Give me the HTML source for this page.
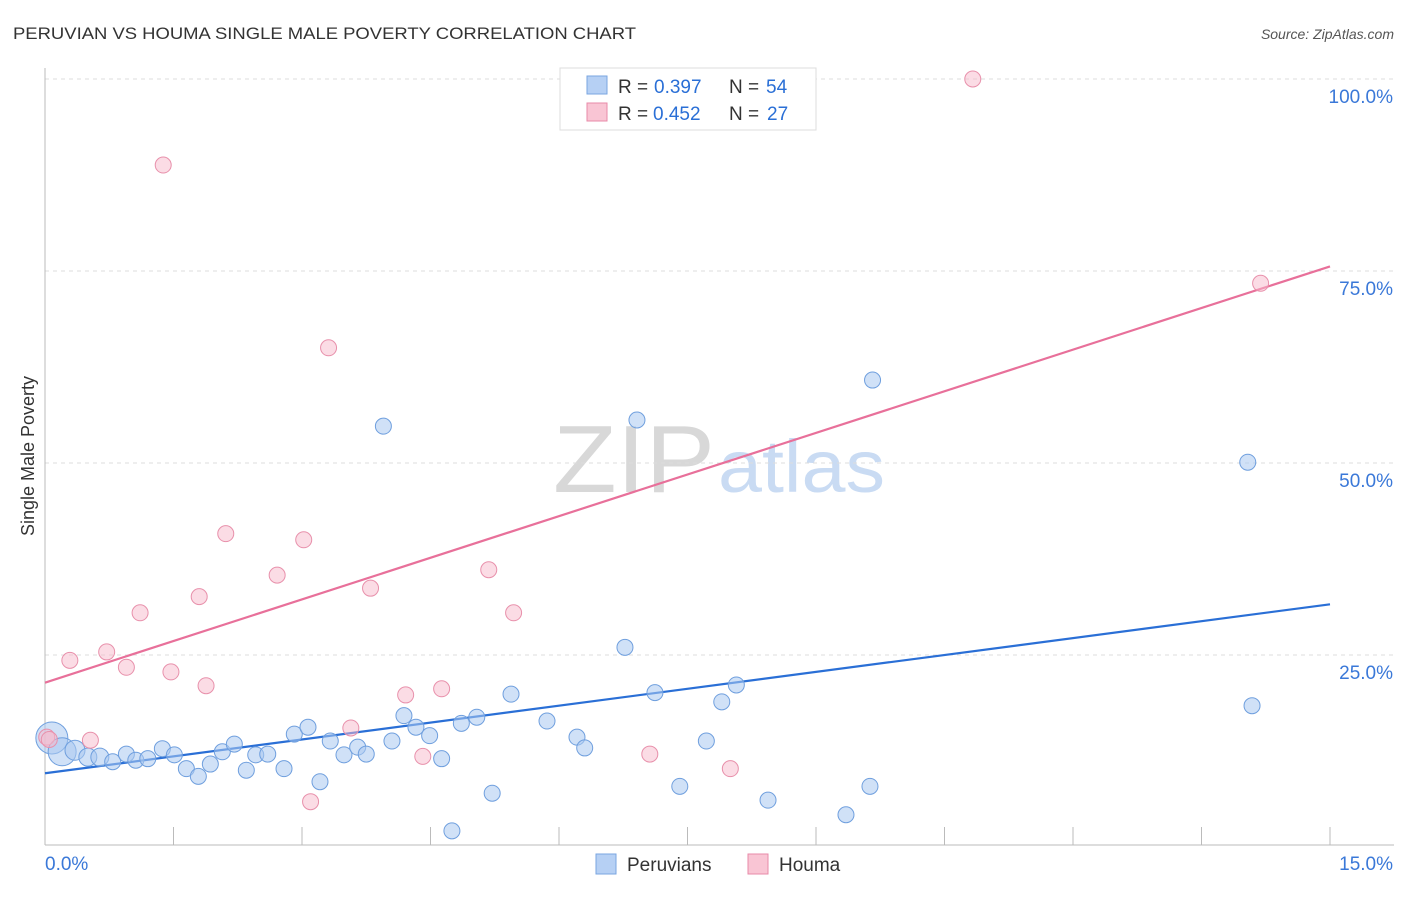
<!DOCTYPE html>
<html><head><meta charset="utf-8"><style>
body{margin:0;background:#fff;font-family:"Liberation Sans",sans-serif;}
svg text{font-family:"Liberation Sans",sans-serif;}
</style></head><body>
<svg width="1406" height="892" xmlns="http://www.w3.org/2000/svg" id="chart">
<text x="13" y="39" font-size="17" fill="#333" textLength="623" lengthAdjust="spacingAndGlyphs">PERUVIAN VS HOUMA SINGLE MALE POVERTY CORRELATION CHART</text>
<text x="1394" y="39" font-size="14" fill="#555" font-style="italic" text-anchor="end">Source: ZipAtlas.com</text>
<text x="0" y="0" transform="translate(34,456) rotate(-90)" font-size="18" fill="#333" text-anchor="middle">Single Male Poverty</text>
<g>
<text x="553" y="492" font-size="96" fill="#d8d8d8" font-family="Liberation Serif,serif" textLength="162" lengthAdjust="spacingAndGlyphs">ZIP</text>
<text x="718" y="492" font-size="74" fill="#c9dbf3" textLength="167" lengthAdjust="spacingAndGlyphs">atlas</text>
</g>
<g id="grid"></g><g id="axes"></g><g id="lines"></g><g id="points"></g>
<g>
<rect x="560" y="68" width="256" height="62" fill="#fff" stroke="#ddd"/>
<rect x="587" y="76" width="20" height="18" fill="#b6d0f4" stroke="#7aa6e0"/>
<text y="93" font-size="19" fill="#333"><tspan x="618">R =</tspan><tspan x="654" fill="#2a6fd6">0.397</tspan><tspan x="729">N =</tspan><tspan x="766" fill="#2a6fd6">54</tspan></text>
<rect x="587" y="103" width="20" height="18" fill="#f9c5d4" stroke="#e88aa8"/>
<text y="120" font-size="19" fill="#333"><tspan x="618">R =</tspan><tspan x="653" fill="#2a6fd6">0.452</tspan><tspan x="729">N =</tspan><tspan x="767" fill="#2a6fd6">27</tspan></text>
</g>
<g>
<rect x="596" y="854" width="20" height="20" fill="#b6d0f4" stroke="#7aa6e0"/>
<text x="627" y="871" font-size="19" fill="#333">Peruvians</text>
<rect x="748" y="854" width="20" height="20" fill="#f9c5d4" stroke="#e88aa8"/>
<text x="779" y="871" font-size="19" fill="#333">Houma</text>
</g>
</svg>
<script>
const blueX=[0.08,0.20,0.35,0.50,0.64,0.79,0.95,1.06,1.20,1.37,1.51,1.65,1.79,1.93,2.07,2.21,2.35,2.46,2.60,2.79,2.91,3.07,3.21,3.33,3.49,3.65,3.75,3.95,4.05,4.19,4.33,4.49,4.63,4.75,4.86,5.04,5.22,5.44,5.86,6.21,6.30,6.77,6.91,7.12,7.41,7.72,7.90,8.07,8.44,9.35,9.63,9.66,14.04,14.09];
const blueY=[14.2,12.4,12.6,11.7,11.7,11.1,12.1,11.3,11.5,12.8,12.0,10.2,9.2,10.8,12.4,13.4,10.0,12.0,12.1,10.2,14.7,15.6,8.5,13.8,12.0,13.0,12.1,54.8,13.8,17.1,15.6,14.5,11.5,2.1,16.1,16.9,7.0,19.9,16.4,14.3,12.9,26.0,55.6,20.1,7.9,13.8,18.9,21.1,6.1,4.2,7.9,60.8,50.1,18.4];
const blueR=[16,14,10,9,9,8,8,8,8,8,8,8,8,8,8,8,8,8,8,8,8,8,8,8,8,8,8,8,8,8,8,8,8,8,8,8,8,8,8,8,8,8,8,8,8,8,8,8,8,8,8,8,8,8];
const pinkX=[0.02,0.05,0.29,0.53,0.72,0.95,1.11,1.38,1.47,1.80,1.88,2.11,2.71,3.02,3.10,3.31,3.57,3.80,4.21,4.41,4.63,5.18,5.47,7.06,8.00,10.83,14.19];
const pinkY=[14.3,14.0,24.3,13.9,25.4,23.4,30.5,88.8,22.8,32.6,21.0,40.8,35.4,40.0,5.9,65.0,15.5,33.7,19.8,11.8,20.6,36.1,30.5,12.1,10.2,100.0,73.4];
const blueLine=[9.6,31.6];const pinkLine=[21.4,75.6];
const xTicks=[0,1.5,3,4.5,6,7.5,9,10.5,12,13.5,15];
const yTicks=[25,50,75,100];const yTickLabels=["25.0%","50.0%","75.0%","100.0%"];
const NS="http://www.w3.org/2000/svg";
const sx=v=>45+v*(1330-45)/15, sy=v=>847-v*7.68;
function mk(t,a,p){const e=document.createElementNS(NS,t);for(const k in a)e.setAttribute(k,a[k]);p.appendChild(e);return e;}
const G=document.getElementById('grid'),A=document.getElementById('axes'),L=document.getElementById('lines'),P=document.getElementById('points');
yTicks.forEach((v,i)=>{const l=mk('line',{x1:45,x2:1394,y1:sy(v),y2:sy(v),stroke:'#ddd','stroke-dasharray':'4,4'},G);

const t=mk('text',{x:1393,y:sy(v)+24,'font-size':19,fill:'#3a78d8','text-anchor':'end'},A);t.textContent=yTickLabels[i];
});
const ax=mk('line',{x1:45,x2:1394,y1:845,y2:845,stroke:'#bbb'},A);
const ay=mk('line',{x1:45,x2:45,y1:68,y2:845,stroke:'#bbb'},A);
xTicks.forEach(v=>{const l=mk('line',{x1:sx(v),x2:sx(v),y1:827,y2:845,stroke:'#bbb'},A);});
let t0=mk('text',{x:45,y:870,'font-size':19,fill:'#3a78d8'},A);t0.textContent=xTicks[0].toFixed(1)+'%';

let t1=mk('text',{x:1393,y:870,'font-size':19,fill:'#3a78d8','text-anchor':'end'},A);t1.textContent=xTicks[xTicks.length-1].toFixed(1)+'%';

blueX.forEach((x,i)=>{const c=mk('circle',{cx:sx(x),cy:sy(blueY[i]),r:blueR[i],fill:'rgba(169,200,240,0.55)',stroke:'#6f9fde','stroke-width':1},P);
});
pinkX.forEach((x,i)=>{const c=mk('circle',{cx:sx(x),cy:sy(pinkY[i]),r:8,fill:'rgba(247,185,204,0.5)',stroke:'#e890ab','stroke-width':1},P);
});
const bl=mk('line',{x1:sx(0),y1:sy(blueLine[0]),x2:sx(15),y2:sy(blueLine[1]),stroke:'#2a6fd6','stroke-width':2.2},L);

const pl=mk('line',{x1:sx(0),y1:sy(pinkLine[0]),x2:sx(15),y2:sy(pinkLine[1]),stroke:'#e8709a','stroke-width':2.2},L);

</script>
</body></html>
